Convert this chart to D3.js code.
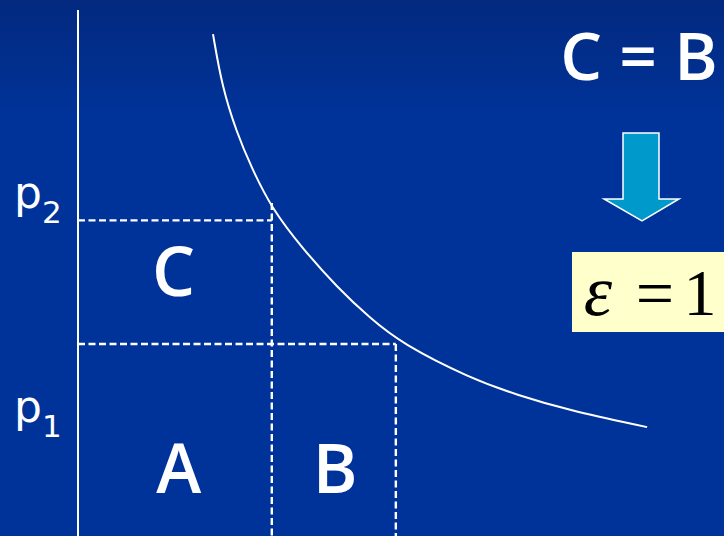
<!DOCTYPE html>
<html>
<head>
<meta charset="utf-8">
<script src="https://cdn.jsdelivr.net/npm/d3@7"></script>
<style>
  html, body { margin: 0; padding: 0; background: #003399; }
  svg { display: block; }
</style>
</head>
<body>
<div id="chart"></div>
<script>
// demand curve (quantity, price)
const curveQ = [20.9, 22.3, 24.6, 26.8, 30.0, 34.8, 40.1, 45.2, 50.2, 60.7, 68.0, 75.7, 88.1];
const curveP = [95.4, 85.4, 76.6, 70.2, 62.2, 54.6, 47.3, 41.4, 36.5, 30.0, 26.8, 24.0, 20.7];

// the two prices and the quantities bought at them
const priceLabels = ['1', '2'];
const prices = [36.5, 60.0];
const quantities = [49.2, 30.0];
const priceLabelY = [21.7, 62.4];

// area labels: [name, quantity, price]
const areaNames = ['C', 'A', 'B'];
const areaQ = [14.8, 15.6, 39.8];
const areaP = [45.6, 8.2, 8.2];

const W = 724, H = 536;

const svg = d3.select('#chart')
  .append('svg')
  .attr('width', W)
  .attr('height', H);

// background gradient
const grad = svg.append('defs')
  .append('linearGradient')
  .attr('id', 'bg')
  .attr('x1', 0).attr('y1', 0).attr('x2', 0).attr('y2', 1);
grad.append('stop').attr('offset', '0%').attr('stop-color', '#03297f');
grad.append('stop').attr('offset', '22%').attr('stop-color', '#003399');
grad.append('stop').attr('offset', '100%').attr('stop-color', '#003399');

svg.append('rect')
  .attr('width', W)
  .attr('height', H)
  .attr('fill', 'url(#bg)');

// scales
const x = d3.scaleLinear().domain([0, 100]).range([78, 724]);
const y = d3.scaleLinear().domain([0, 100]).range([536, 10]);

// vertical axis
svg.append('line')
  .attr('x1', x(0)).attr('x2', x(0))
  .attr('y1', y(100)).attr('y2', y(0))
  .attr('stroke', '#ffffff')
  .attr('stroke-width', 2);

// dashed guides
const dash = '7,3.5';
const guide = (x1, y1, x2, y2) =>
  svg.append('line')
    .attr('x1', x1).attr('y1', y1)
    .attr('x2', x2).attr('y2', y2)
    .attr('stroke', '#ffffff')
    .attr('stroke-width', 2.4)
    .attr('stroke-dasharray', dash);

prices.forEach((p, i) => {
  guide(x(0), y(p), x(quantities[i]), y(p));
});
// vertical guides run down to the bottom
guide(x(quantities[1]), y(63.3), x(quantities[1]), y(0));
guide(x(quantities[0]), y(prices[0]), x(quantities[0]), y(0));

// demand curve
const line = d3.line()
  .x((d) => x(d[0]))
  .y((d) => y(d[1]))
  .curve(d3.curveBasis);

svg.append('path')
  .datum(curveQ.map((q, i) => [q, curveP[i]]))
  .attr('d', line)
  .attr('fill', 'none')
  .attr('stroke', '#ffffff')
  .attr('stroke-width', 2);

// price labels p1, p2
priceLabelY.forEach((p, i) => {
  const t = svg.append('text')
    .attr('x', 14)
    .attr('y', y(p))
    .attr('fill', '#ffffff')
    .attr('font-family', 'DejaVu Sans, Verdana, sans-serif')
    .attr('font-size', '44px')
    .text('p');
  t.append('tspan')
    .attr('font-size', '31px')
    .attr('dy', 15)
    .text(priceLabels[i]);
});

// area labels
const labelFont = "'Comic Sans MS', 'Open Sans', sans-serif";
areaNames.forEach((n, i) => {
  svg.append('text')
    .attr('x', x(areaQ[i]))
    .attr('y', y(areaP[i]))
    .attr('text-anchor', 'middle')
    .attr('fill', '#ffffff')
    .attr('font-family', labelFont)
    .attr('font-weight', 600)
    .attr('font-size', '68px')
    .text(n);
});

// C = B
svg.append('text')
  .attr('x', 639)
  .attr('y', 80)
  .attr('text-anchor', 'middle')
  .attr('fill', '#ffffff')
  .attr('font-family', labelFont)
  .attr('font-weight', 600)
  .attr('font-size', '66px')
  .text('C = B');

// down arrow
const arrow = [
  [623, 133], [659, 133], [659, 199], [679, 199],
  [642, 221], [604, 199], [623, 199]
];
svg.append('path')
  .attr('d', d3.line()(arrow) + 'Z')
  .attr('fill', '#0099cc')
  .attr('stroke', '#ffffff')
  .attr('stroke-width', 1.5)
  .attr('stroke-linejoin', 'miter');

// epsilon box
svg.append('rect')
  .attr('x', 572).attr('y', 252)
  .attr('width', 160).attr('height', 80)
  .attr('fill', '#ffffcc');

const serif = "'Liberation Serif', 'Times New Roman', serif";
svg.append('text')
  .attr('x', 598).attr('y', 315)
  .attr('text-anchor', 'middle')
  .attr('font-family', serif)
  .attr('font-style', 'italic')
  .attr('font-size', '72px')
  .attr('fill', '#000000')
  .text('\u03B5');
svg.append('text')
  .attr('x', 655).attr('y', 316)
  .attr('text-anchor', 'middle')
  .attr('font-family', serif)
  .attr('font-size', '68px')
  .attr('fill', '#000000')
  .text('=');
svg.append('text')
  .attr('x', 700).attr('y', 315)
  .attr('text-anchor', 'middle')
  .attr('font-family', serif)
  .attr('font-size', '66px')
  .attr('fill', '#000000')
  .text('1');
</script>
</body>
</html>
